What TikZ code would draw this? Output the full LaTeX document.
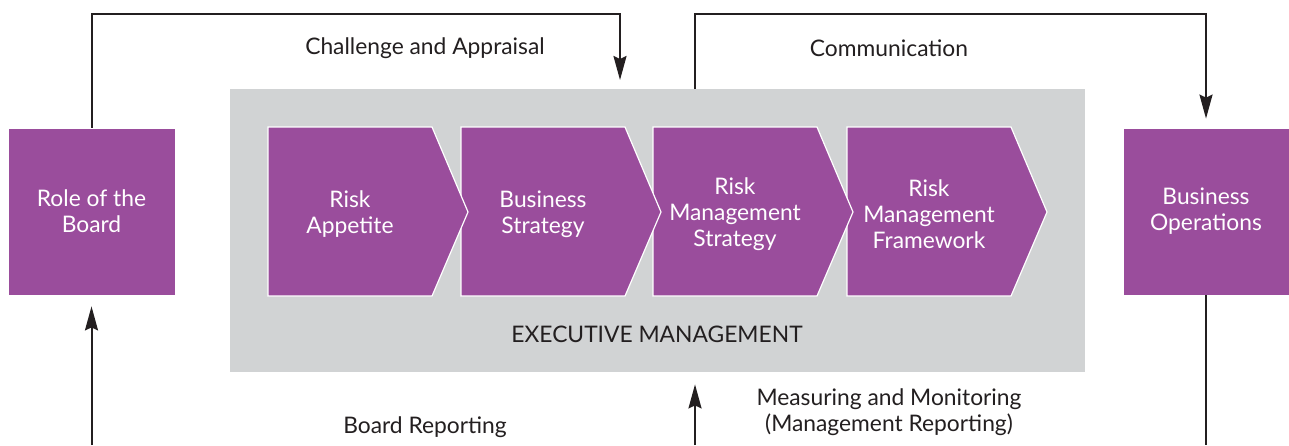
\documentclass[tikz,border=0pt]{standalone}
\usepackage{fontspec}
\setmainfont{Lato}
\usetikzlibrary{arrows.meta}
\definecolor{boxpurple}{HTML}{9A4D9C}
\definecolor{execgray}{HTML}{D1D3D4}
\definecolor{ink}{HTML}{231F20}
\begin{document}
\begin{tikzpicture}[x=0.5pt,y=-0.5pt,
  font=\fontsize{11.4}{13}\selectfont,
  purplebox/.style={fill=boxpurple, draw=white, line width=0.4pt, text=white, align=center, inner sep=0pt, minimum height=83.5pt},
  chev/.style={fill=boxpurple, draw=white, line width=0.6pt},
  chevtext/.style={text=white, align=center},
  conn/.style={draw=ink, line width=1pt},
  arr/.style={conn, -{Stealth[length=12pt,width=6.5pt,inset=1.5pt]}},
  lbl/.style={text=ink, align=center}]
\useasboundingbox (0,0) rectangle (1289,445);
\fill[white] (0,0) rectangle (1289,445);

% executive management box
\node[fill=execgray, minimum width=427.5pt, minimum height=141.5pt, inner sep=0pt] (exec) at (657.5,230.5) {};

% chevrons (drawn right to left so each tip lies on top of the next)
\foreach \L in {847,653,461,268}{
  \path[chev] (\L,127) -- ++(164,0) -- ++(36,85) -- ++(-36,84) -- ++(-164,0) -- cycle;
}
\node[chevtext] (ra) at (350,214) {Risk\\Appetite};
\node[chevtext] (bs) at (543,214) {Business\\Strategy};
\node[chevtext] (rms) at (735,214) {Risk\\Management\\Strategy};
\node[chevtext] (rmf) at (929,214) {Risk\\Management\\Framework};
\node[lbl] (em) at (657,334) {EXECUTIVE MANAGEMENT};

% side boxes
\node[purplebox, minimum width=83.5pt] (role) at (91.5,211.5) {Role of the\\Board};
\node[purplebox, minimum width=83pt] (ops) at (1206,211.5) {Business\\Operations};

% helper coordinates
\coordinate (topline) at (0,14);
\coordinate (bottom) at (0,445);
\coordinate (ca) at (620,89);
\coordinate (cb) at (695,89);

% connectors
\draw[arr, shorten >=4.5pt] (role.north) -- (role.north |- topline) -| (ca);
\draw[arr, shorten >=4.5pt] (cb) |- (ops.north |- topline) -- (ops.north);
\draw[arr, shorten >=5.5pt] (role.south |- bottom) -- (role.south);
\draw[arr, shorten >=6pt] (cb |- bottom) -- (cb |- exec.south);
\draw[conn] (ops.south) -- (ops.south |- bottom);

% labels
\node[lbl] (l1) at (425,48) {Challenge and Appraisal};
\node[lbl] (l2) at (889,48) {Communication};
\node[lbl] (l3) at (425,427) {Board Reporting};
\node[lbl] (l4) at (889,412) {Measuring and Monitoring\\(Management Reporting)};
\end{tikzpicture}
\end{document}
